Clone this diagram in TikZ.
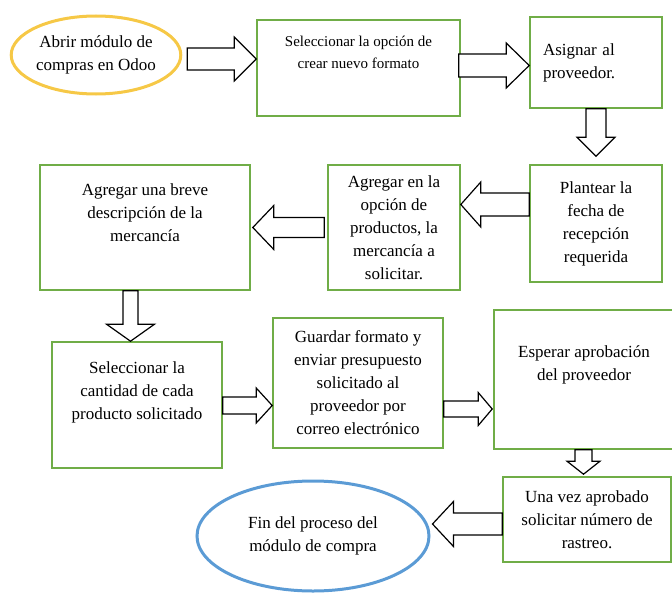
\documentclass[tikz,border=0pt]{standalone}
\usepackage{fontspec}
\setmainfont{Liberation Serif}
\newfontfamily\letraserif{Liberation Serif}
\usetikzlibrary{calc, shapes.geometric}

\definecolor{verde}{RGB}{112,173,71}
\definecolor{amarillo}{RGB}{246,200,70}
\definecolor{azul}{RGB}{91,155,213}

\tikzset{
    caja/.style={draw=verde, line width=1.6pt, align=center, inner sep=0pt,
        font=\letraserif\fontsize{17}{23}\selectfont},
    inicio/.style={ellipse, draw=amarillo, line width=3pt, align=center,
        inner sep=0pt, font=\letraserif\fontsize{17}{23}\selectfont},
    final/.style={ellipse, draw=azul, line width=3pt, align=center,
        inner sep=0pt, font=\letraserif\fontsize{17}{23}\selectfont},
    bloque/.style={draw=black, fill=white, line width=1.2pt, line join=miter}
}

% block arrow: start, end, half shaft, half head, head length
\newcommand{\flecha}[5]{%
    \coordinate (fa) at #1;
    \coordinate (fb) at #2;
    \coordinate (fh) at ($(fb)!#5pt!(fa)$);
    \draw[bloque] ($(fa)!#3pt!90:(fb)$) -- ($(fh)!#3pt!90:(fb)$)
        -- ($(fh)!#4pt!90:(fb)$) -- (fb) -- ($(fh)!#4pt!-90:(fb)$)
        -- ($(fh)!#3pt!-90:(fb)$) -- ($(fa)!#3pt!-90:(fb)$) -- cycle;
}

\begin{document}
\begin{tikzpicture}[x=1pt, y=-1pt]
    \useasboundingbox (0,0) rectangle (672,594);

    % Fila superior
    \node[inicio, minimum width=166, minimum height=78] (abrir) at (96,55)
        {Abrir módulo de\\compras en Odoo};
    \node[caja, minimum width=203, minimum height=96,
        font=\letraserif\fontsize{15}{22}\selectfont] (nuevo) at (358.5,68)
        {Seleccionar la opción de\\crear nuevo formato\\[10pt]};
    \node[caja, minimum width=132, minimum height=91, text width=106,
        align=left] (asignar) at (596,62.5)
        {Asignar al\\proveedor.\\[10pt]};

    % Segunda fila
    \node[caja, minimum width=132, minimum height=117] (fecha) at (596,223.5)
        {Plantear la\\fecha de\\recepción\\requerida};
    \node[caja, minimum width=132, minimum height=125] (productos) at (394,227.5)
        {Agregar en la\\opción de\\productos, la\\mercancía a\\solicitar.};
    \node[caja, minimum width=210, minimum height=125] (breve) at (145,227.5)
        {Agregar una breve\\descripción de la\\mercancía\\[6pt]};

    % Tercera fila
    \node[caja, minimum width=170, minimum height=126] (cantidad) at (137,405)
        {Seleccionar la\\cantidad de cada\\producto solicitado\\[6pt]};
    \node[caja, minimum width=170, minimum height=130] (guardar) at (358,383)
        {Guardar formato y\\enviar presupuesto\\solicitado al\\proveedor por\\correo electrónico};
    \node[caja, minimum width=180, minimum height=139] (esperar) at (584,379.5)
        {Esperar aprobación\\del proveedor\\[10pt]};

    % Fila inferior
    \node[caja, minimum width=168, minimum height=85] (rastreo) at (587,519.5)
        {Una vez aprobado\\solicitar número de\\rastreo.};
    \node[final, minimum width=232, minimum height=110] (fin) at (313,536)
        {Fin del proceso del\\módulo de compra};

    % Flechas de bloque
    \flecha{($(abrir.east)+(5,4)$)}{($(nuevo.west)+(0,-9)$)}{11}{22}{22}
    \flecha{($(nuevo.east)+(-2,-2.5)$)}{($(asignar.west)+(0,3)$)}{11.5}{22.5}{23}
    \flecha{(asignar.south)}{($(fecha.north)+(0,-8)$)}{10}{19}{19}
    \flecha{($(fecha.west)+(0,-19)$)}{($(productos.east)+(0,-23)$)}{11.5}{22.5}{20}
    \flecha{($(productos.west)+(-3,0)$)}{($(breve.east)+(2,0)$)}{10}{22}{21}
    \flecha{($(breve.south)+(-14.5,0)$)}{($(cantidad.north)+(-6.5,0)$)}{7.5}{24}{17}
    \flecha{($(cantidad.east)+(0,0.5)$)}{($(guardar.west)+(0,22.5)$)}{8.5}{17.5}{16}
    \flecha{($(guardar.east)+(0,26)$)}{($(esperar.west)+(-1,29.5)$)}{8}{16.5}{14}
    \flecha{($(esperar.south)+(-0.5,0)$)}{($(rastreo.north)+(-3.5,-2)$)}{8.5}{16.5}{13}
    \flecha{($(rastreo.west)+(0,4.5)$)}{($(fin.east)+(2,-12)$)}{11}{22.5}{21}
\end{tikzpicture}
\end{document}
